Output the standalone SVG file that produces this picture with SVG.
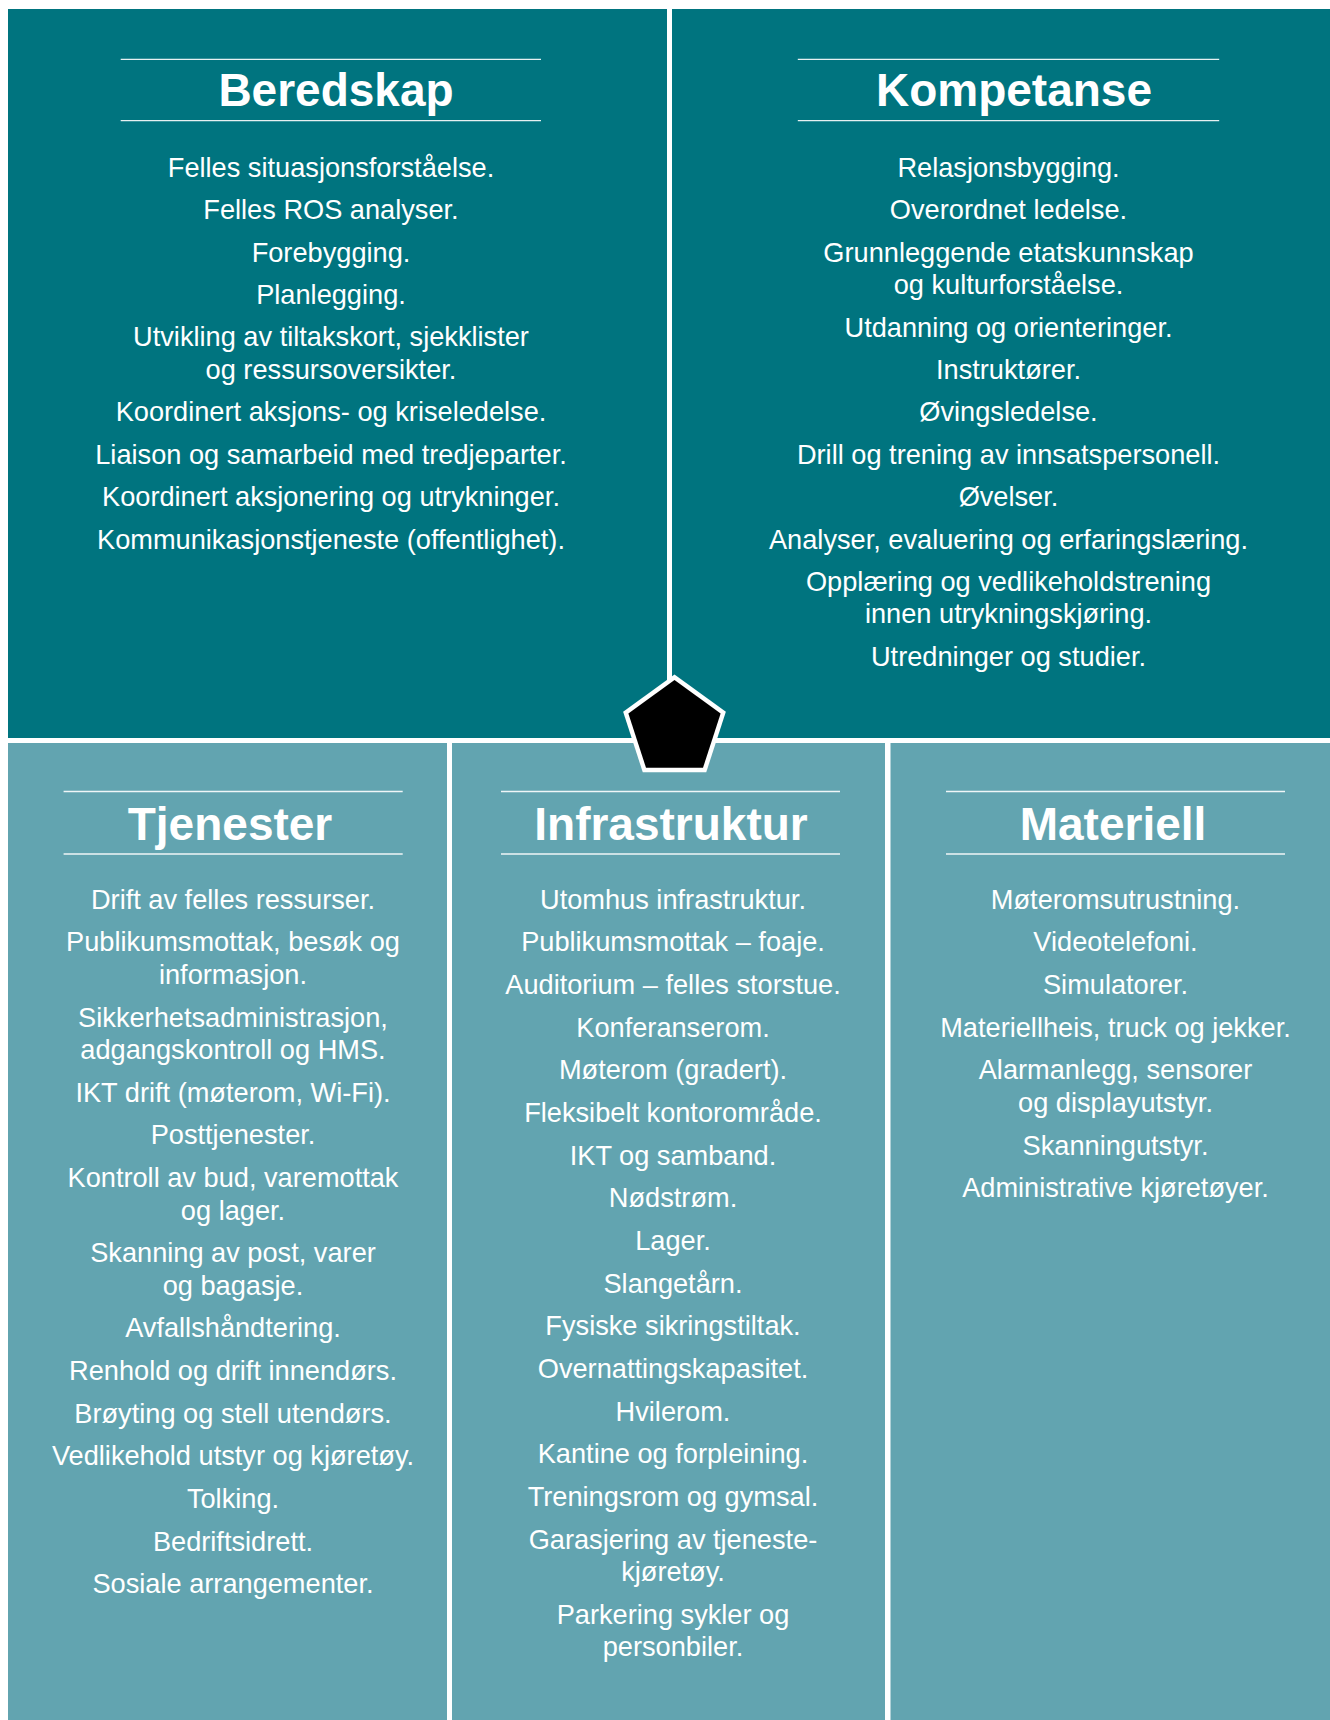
<svg xmlns="http://www.w3.org/2000/svg" width="1330" height="1720" viewBox="0 0 1330 1720">
  <style>
    .dark { fill: #00747F; }
    .light { fill: #62A4B0; }
    .rule { stroke: #FFFFFF; stroke-width: 1.3; stroke-opacity: 0.9; }
    .title { font-family: "Liberation Sans", Arial, sans-serif; font-weight: 700; font-size: 46px; fill: #FFFFFF; text-anchor: middle; }
    .item { font-family: "Liberation Sans", Arial, sans-serif; font-size: 27.2px; fill: #FFFFFF; text-anchor: middle; }
  </style>
  <rect x="0" y="0" width="1330" height="1720" fill="#FFFFFF"/>

  <g id="beredskap">
    <rect class="dark" x="8" y="9" width="659" height="729"/>
    <line class="rule" x1="120.7" y1="59.3" x2="541" y2="59.3"/>
    <line class="rule" x1="120.7" y1="120.7" x2="541" y2="120.7"/>
    <text class="title" x="336" y="106">Beredskap</text>
    <g class="item" transform="translate(0,2.5)">
      <text x="331" y="174.3">Felles situasjonsforståelse.</text>
      <text x="331" y="216.7">Felles ROS analyser.</text>
      <text x="331" y="259.1">Forebygging.</text>
      <text x="331" y="301.5">Planlegging.</text>
      <text x="331" y="343.9">Utvikling av tiltakskort, sjekklister</text>
      <text x="331" y="376.4">og ressursoversikter.</text>
      <text x="331" y="418.8">Koordinert aksjons- og kriseledelse.</text>
      <text x="331" y="461.2">Liaison og samarbeid med tredjeparter.</text>
      <text x="331" y="503.6">Koordinert aksjonering og utrykninger.</text>
      <text x="331" y="546">Kommunikasjonstjeneste (offentlighet).</text>
    </g>
  </g>

  <g id="kompetanse">
    <rect class="dark" x="672" y="9" width="658" height="729"/>
    <line class="rule" x1="797.8" y1="59.3" x2="1219.2" y2="59.3"/>
    <line class="rule" x1="797.8" y1="120.7" x2="1219.2" y2="120.7"/>
    <text class="title" x="1014" y="106">Kompetanse</text>
    <g class="item" transform="translate(0,2.5)">
      <text x="1008.5" y="174.3">Relasjonsbygging.</text>
      <text x="1008.5" y="216.7">Overordnet ledelse.</text>
      <text x="1008.5" y="259.1">Grunnleggende etatskunnskap</text>
      <text x="1008.5" y="291.6">og kulturforståelse.</text>
      <text x="1008.5" y="334">Utdanning og orienteringer.</text>
      <text x="1008.5" y="376.4">Instruktører.</text>
      <text x="1008.5" y="418.8">Øvingsledelse.</text>
      <text x="1008.5" y="461.2">Drill og trening av innsatspersonell.</text>
      <text x="1008.5" y="503.6">Øvelser.</text>
      <text x="1008.5" y="546">Analyser, evaluering og erfaringslæring.</text>
      <text x="1008.5" y="588.4">Opplæring og vedlikeholdstrening</text>
      <text x="1008.5" y="620.9">innen utrykningskjøring.</text>
      <text x="1008.5" y="663.3">Utredninger og studier.</text>
    </g>
  </g>

  <g id="tjenester">
    <rect class="light" x="8" y="743" width="439" height="977"/>
    <line class="rule" x1="63.6" y1="791.5" x2="402.7" y2="791.5"/>
    <line class="rule" x1="63.6" y1="854" x2="402.7" y2="854"/>
    <text class="title" x="230" y="840">Tjenester</text>
    <g class="item" transform="translate(0,2.5)">
      <text x="233" y="906.3">Drift av felles ressurser.</text>
      <text x="233" y="948.95">Publikumsmottak, besøk og</text>
      <text x="233" y="981.45">informasjon.</text>
      <text x="233" y="1024.1">Sikkerhetsadministrasjon,</text>
      <text x="233" y="1056.6">adgangskontroll og HMS.</text>
      <text x="233" y="1099.25">IKT drift (møterom, Wi-Fi).</text>
      <text x="233" y="1141.9">Posttjenester.</text>
      <text x="233" y="1184.55">Kontroll av bud, varemottak</text>
      <text x="233" y="1217.05">og lager.</text>
      <text x="233" y="1259.7">Skanning av post, varer</text>
      <text x="233" y="1292.2">og bagasje.</text>
      <text x="233" y="1334.85">Avfallshåndtering.</text>
      <text x="233" y="1377.5">Renhold og drift innendørs.</text>
      <text x="233" y="1420.15">Brøyting og stell utendørs.</text>
      <text x="233" y="1462.8">Vedlikehold utstyr og kjøretøy.</text>
      <text x="233" y="1505.45">Tolking.</text>
      <text x="233" y="1548.1">Bedriftsidrett.</text>
      <text x="233" y="1590.75">Sosiale arrangementer.</text>
    </g>
  </g>

  <g id="infrastruktur">
    <rect class="light" x="452" y="743" width="433" height="977"/>
    <line class="rule" x1="501" y1="791.5" x2="840" y2="791.5"/>
    <line class="rule" x1="501" y1="854" x2="840" y2="854"/>
    <text class="title" x="671" y="840">Infrastruktur</text>
    <g class="item" transform="translate(0,2.5)">
      <text x="673" y="906.3">Utomhus infrastruktur.</text>
      <text x="673" y="948.95">Publikumsmottak – foaje.</text>
      <text x="673" y="991.6">Auditorium – felles storstue.</text>
      <text x="673" y="1034.25">Konferanserom.</text>
      <text x="673" y="1076.9">Møterom (gradert).</text>
      <text x="673" y="1119.55">Fleksibelt kontorområde.</text>
      <text x="673" y="1162.2">IKT og samband.</text>
      <text x="673" y="1204.85">Nødstrøm.</text>
      <text x="673" y="1247.5">Lager.</text>
      <text x="673" y="1290.15">Slangetårn.</text>
      <text x="673" y="1332.8">Fysiske sikringstiltak.</text>
      <text x="673" y="1375.45">Overnattingskapasitet.</text>
      <text x="673" y="1418.1">Hvilerom.</text>
      <text x="673" y="1460.75">Kantine og forpleining.</text>
      <text x="673" y="1503.4">Treningsrom og gymsal.</text>
      <text x="673" y="1546.05">Garasjering av tjeneste-</text>
      <text x="673" y="1578.55">kjøretøy.</text>
      <text x="673" y="1621.2">Parkering sykler og</text>
      <text x="673" y="1653.7">personbiler.</text>
    </g>
  </g>

  <g id="materiell">
    <rect class="light" x="890.5" y="743" width="439.5" height="977"/>
    <line class="rule" x1="946" y1="791.5" x2="1285" y2="791.5"/>
    <line class="rule" x1="946" y1="854" x2="1285" y2="854"/>
    <text class="title" x="1113" y="840">Materiell</text>
    <g class="item" transform="translate(0,2.5)">
      <text x="1115.5" y="906.3">Møteromsutrustning.</text>
      <text x="1115.5" y="948.95">Videotelefoni.</text>
      <text x="1115.5" y="991.6">Simulatorer.</text>
      <text x="1115.5" y="1034.25">Materiellheis, truck og jekker.</text>
      <text x="1115.5" y="1076.9">Alarmanlegg, sensorer</text>
      <text x="1115.5" y="1109.4">og displayutstyr.</text>
      <text x="1115.5" y="1152.05">Skanningutstyr.</text>
      <text x="1115.5" y="1194.7">Administrative kjøretøyer.</text>
    </g>
  </g>

  <g id="pentagon">
    <polygon points="674.5,674.5 725.86,711.81 706.24,772.19 642.76,772.19 623.14,711.81" fill="#FFFFFF"/>
    <polygon points="674.5,680 720.63,713.51 703.01,767.74 645.99,767.74 628.37,713.51" fill="#000000"/>
  </g>

  <g id="connectors"/>
</svg>
